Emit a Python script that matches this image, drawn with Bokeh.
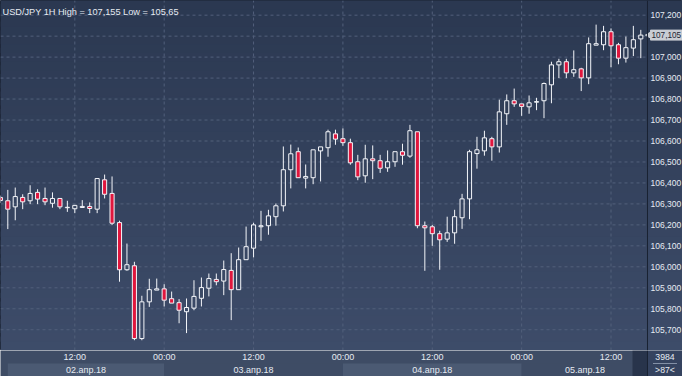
import math
from bokeh.plotting import figure
from bokeh.layouts import column
from bokeh.models import Range1d, BoxAnnotation, Label, ColumnDataSource, Span
from bokeh.core.properties import value
from bokeh.embed import file_html
from bokeh.resources import INLINE

# ---------------- data (hourly USD/JPY, 02.04.18 02:00 .. 05.04.18 16:00) ----------------
OPEN = [106.331, 106.315, 106.286, 106.331, 106.315, 106.355, 106.326, 106.303, 106.326, 106.282,
        106.277, 106.283, 106.288, 106.275, 106.415, 106.350, 106.211, 105.986, 106.005, 105.658,
        105.833, 105.889, 105.895, 105.848, 105.829, 105.786, 105.803, 105.850, 105.898, 105.940,
        105.932, 105.983, 105.891, 106.034, 106.089, 106.191, 106.196, 106.239, 106.291, 106.463,
        106.549, 106.423, 106.425, 106.553, 106.568, 106.634, 106.611, 106.592, 106.501, 106.434,
        106.515, 106.506, 106.472, 106.501, 106.549, 106.528, 106.644, 106.196, 106.191, 106.158,
        106.132, 106.162, 106.234, 106.324, 106.540, 106.553, 106.611, 106.572, 106.730, 106.792,
        106.777, 106.763, 106.785, 106.792, 106.868, 106.963, 106.978, 106.925, 106.944, 106.901,
        107.057, 107.059, 107.121, 107.059, 106.995, 107.043, 107.087]
HIGH = [106.340, 106.367, 106.378, 106.346, 106.389, 106.370, 106.378, 106.355, 106.326, 106.315,
        106.293, 106.318, 106.307, 106.421, 106.440, 106.431, 106.220, 106.111, 106.024, 105.862,
        105.943, 105.944, 105.917, 105.882, 105.846, 105.849, 105.936, 105.949, 105.968, 105.968,
        106.030, 106.065, 106.092, 106.192, 106.210, 106.267, 106.272, 106.302, 106.574, 106.583,
        106.569, 106.488, 106.558, 106.572, 106.654, 106.654, 106.660, 106.611, 106.534, 106.582,
        106.579, 106.534, 106.555, 106.549, 106.587, 106.677, 106.644, 106.216, 106.200, 106.172,
        106.239, 106.272, 106.348, 106.558, 106.620, 106.649, 106.620, 106.797, 106.822, 106.850,
        106.777, 106.817, 106.806, 106.879, 106.978, 106.992, 106.992, 107.032, 106.949, 107.094,
        107.155, 107.149, 107.137, 107.068, 107.098, 107.149, 107.130]
LOW = [106.305, 106.180, 106.222, 106.275, 106.299, 106.299, 106.294, 106.282, 106.275, 106.262,
       106.256, 106.283, 106.256, 106.256, 106.326, 106.199, 105.929, 105.981, 105.650, 105.650,
       105.809, 105.889, 105.811, 105.827, 105.731, 105.684, 105.793, 105.811, 105.859, 105.912,
       105.865, 105.746, 105.891, 106.034, 106.045, 106.124, 106.153, 106.196, 106.264, 106.374,
       106.425, 106.374, 106.394, 106.407, 106.525, 106.582, 106.577, 106.487, 106.413, 106.401,
       106.418, 106.448, 106.453, 106.477, 106.487, 106.520, 106.184, 105.981, 106.100, 105.986,
       106.119, 106.110, 106.181, 106.227, 106.468, 106.530, 106.506, 106.545, 106.677, 106.763,
       106.720, 106.730, 106.747, 106.709, 106.780, 106.900, 106.900, 106.906, 106.838, 106.871,
       107.057, 107.033, 106.952, 106.966, 106.974, 107.005, 106.995]
CLOSE = [106.316, 106.275, 106.335, 106.310, 106.350, 106.323, 106.310, 106.326, 106.286, 106.284,
         106.293, 106.288, 106.278, 106.421, 106.346, 106.208, 105.986, 106.010, 105.658, 105.833,
         105.891, 105.895, 105.841, 105.827, 105.793, 105.806, 105.859, 105.901, 105.944, 105.929,
         105.987, 105.891, 106.034, 106.096, 106.200, 106.196, 106.243, 106.291, 106.463, 106.539,
         106.425, 106.431, 106.558, 106.572, 106.644, 106.609, 106.592, 106.496, 106.429, 106.515,
         106.506, 106.470, 106.501, 106.549, 106.532, 106.649, 106.196, 106.186, 106.158, 106.129,
         106.162, 106.239, 106.324, 106.549, 106.558, 106.615, 106.572, 106.739, 106.792, 106.777,
         106.765, 106.782, 106.788, 106.874, 106.963, 106.978, 106.925, 106.940, 106.901, 107.064,
         107.064, 107.121, 107.054, 106.995, 107.045, 107.083, 107.105]

Y_TICKS = [105.7, 105.8, 105.9, 106.0, 106.1, 106.2, 106.3, 106.4, 106.5, 106.6,
           106.7, 106.8, 106.9, 107.0, 107.1, 107.2]
TIME_TICK_IDX = [10, 22, 34, 46, 58, 70, 82]
TIME_LABELS = ["12:00", "00:00", "12:00", "00:00", "12:00", "00:00", "12:00"]
DAY_LABELS = ["02.апр.18", "03.апр.18", "04.апр.18", "05.апр.18"]
DAY_START = [1, 22, 46, 70]
DAY_END = [22, 46, 70, 87]
TITLE = "USD/JPY 1H High = 107,155 Low = 105,65"
BARS_TOTAL = "3984"
BARS_VISIBLE = ">87<"

# ---------------- styling / layout ----------------
FONT = "Liberation Sans"
BG_TOP = (43, 56, 81)
BG_BOT = (61, 76, 105)
AXIS_BG = "#35435f"
DARK = "#1a2232"
GRID = "#52607b"
RED = "#e0163d"
WHITE = "#f4f6fa"
TXT = "#e6ebf2"

W, H_MAIN, H_BOT = 682, 350, 26
AXIS_W = 35                      # pixel width of the price scale on the right
XA, XP = 0.020, 86.90            # left edge of view, right edge of the candle pane
Y0, Y1 = 105.601, 107.270
ppu = 7.447                      # pixels per bar
XB = XP + AXIS_W / ppu

def fmt(v):
    return ("%.3f" % v).replace(".", ",")

idx = list(range(len(OPEN)))
btop = [max(o, c) for o, c in zip(OPEN, CLOSE)]
bbot = [min(o, c) for o, c in zip(OPEN, CLOSE)]
fill = [RED if c < o else "#000000" for o, c in zip(OPEN, CLOSE)]
falpha = [1.0 if c < o else 0.0 for o, c in zip(OPEN, CLOSE)]
src = ColumnDataSource(dict(x=idx, top=btop, bottom=bbot, high=HIGH, low=LOW,
                            fill=fill, falpha=falpha))

p = figure(width=W, height=H_MAIN, x_range=Range1d(XA, XB), y_range=Range1d(Y0, Y1),
           x_axis_location=None, y_axis_location=None, output_backend="svg",
           toolbar_location=None, min_border=0)
p.background_fill_color = "#34425f"
p.border_fill_color = "#34425f"
p.outline_line_color = DARK
p.outline_line_width = 1
for g in p.grid:
    g.visible = False

# vertical background gradient
n = 40
step = (Y1 - Y0) / n
for k in range(n):
    t = k / (n - 1)
    col = tuple(round(BG_BOT[i] + (BG_TOP[i] - BG_BOT[i]) * t) for i in range(3))
    p.add_layout(BoxAnnotation(bottom=Y0 + k * step, top=Y0 + (k + 1.6) * step,
                               fill_color="#%02x%02x%02x" % col, fill_alpha=1,
                               line_alpha=0, level="underlay"))

# grid lines (dashed) limited to the candle pane
p.segment(x0=[XA] * len(Y_TICKS), y0=Y_TICKS, x1=[XP] * len(Y_TICKS), y1=Y_TICKS,
          line_color=GRID, line_width=1, line_dash="3 3")
p.segment(x0=TIME_TICK_IDX, y0=[Y0] * len(TIME_TICK_IDX), x1=TIME_TICK_IDX,
          y1=[Y1] * len(TIME_TICK_IDX), line_color=GRID, line_width=1, line_dash="3 3")
p.add_layout(Span(location=XP, dimension="height", line_color=DARK, line_width=1))

# price scale labels
p.text(x=[XP] * len(Y_TICKS), y=Y_TICKS, text=[fmt(v) for v in Y_TICKS], x_offset=3,
       text_font=value(FONT), text_font_size="8.5px", text_color=TXT,
       text_align="left", text_baseline="middle")

# candles
p.segment(x0="x", y0="high", x1="x", y1="top", source=src, line_color=WHITE, line_width=1)
p.segment(x0="x", y0="bottom", x1="x", y1="low", source=src, line_color=WHITE, line_width=1)
p.vbar(x="x", width=0.55, top="top", bottom="bottom", source=src, fill_color="fill",
       fill_alpha="falpha", line_color=WHITE, line_width=1)

# last price marker
MARK = "#c9cdd4"
p.scatter(x=[XP + 2.5 / ppu], y=[CLOSE[-1]], marker="triangle", size=8, angle=math.pi / 2,
          fill_color=MARK, line_color=MARK)
p.rect(x=[XP + 20 / ppu], y=[CLOSE[-1]], width=34, height=10, width_units="screen",
       height_units="screen", fill_color=MARK, line_color=MARK)
p.text(x=[XP], y=[CLOSE[-1]], text=[fmt(CLOSE[-1])], x_offset=4, text_font=value(FONT),
       text_font_size="8.2px", text_color="#1d2533", text_align="left", text_baseline="middle")

p.add_layout(Label(x=XA, y=Y1, x_offset=2, y_offset=-11, text=TITLE, text_font=FONT,
                   text_font_size="9.2px", text_color=TXT, text_baseline="alphabetic"))

# ---------------- bottom time band ----------------
q = figure(width=W, height=H_BOT, x_range=p.x_range, y_range=Range1d(0, 2),
           x_axis_location=None, y_axis_location=None, output_backend="svg",
           toolbar_location=None, min_border=0)
q.outline_line_color = None
q.background_fill_color = "#3e4c65"
q.border_fill_color = "#3e4c65"
for g in q.grid:
    g.visible = False

band_cols = ["#4b5a73" if i % 2 == 0 else "#3e4c65" for i in range(len(DAY_LABELS))]
q.quad(left=DAY_START, right=DAY_END, bottom=0, top=1, fill_color=band_cols, line_color=None)
q.quad(left=[XP - 15 / ppu], right=[XP], bottom=0, top=2, fill_color="#28344b", line_color=None)
q.quad(left=[XP], right=[XB], bottom=0, top=2, fill_color=AXIS_BG, line_color=None)
q.segment(x0=[XP], y0=[0], x1=[XP], y1=[2], line_color=DARK, line_width=1)

q.text(x=TIME_TICK_IDX, y=[1.5] * len(TIME_TICK_IDX), text=TIME_LABELS,
       text_font=value(FONT), text_font_size="9px", text_color=TXT,
       text_align="center", text_baseline="middle")
q.text(x=[(a + b) / 2 for a, b in zip(DAY_START, DAY_END)], y=[0.5] * len(DAY_LABELS),
       text=DAY_LABELS, text_font=value(FONT), text_font_size="9px", text_color=TXT,
       text_align="center", text_baseline="middle")
cm = (XP + XB) / 2
q.text(x=[cm, cm], y=[1.5, 0.5], text=[BARS_TOTAL, BARS_VISIBLE], text_font=value(FONT),
       text_font_size="8.7px", text_color=TXT, text_align="center", text_baseline="middle")
q.segment(x0=[cm - 12 / ppu], y0=[1], x1=[cm + 12 / ppu], y1=[1], line_color="#8390a6",
          line_width=1)

layout = column(p, q, spacing=0)
open("out.html", "w").write(file_html(layout, INLINE))
